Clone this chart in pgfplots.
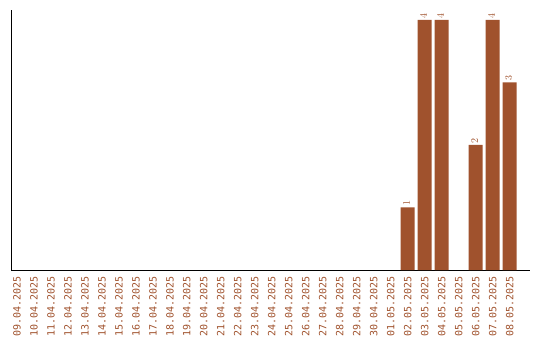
\documentclass[border=0pt]{standalone}
\usepackage{pgfplots}
\pgfplotsset{compat=1.18}
\usepackage{fontspec}
\setmonofont{DejaVu Sans Mono}
\definecolor{barc}{HTML}{A0522D}
\begin{document}
\begin{tikzpicture}
\useasboundingbox (0,0) rectangle (540pt,340pt);
\begin{axis}[
  at={(11pt,70pt)}, anchor=south west,
  scale only axis, width=519pt, height=260pt,
  axis lines=left, axis line style={-, thick},
  xmin=-0.35, xmax=30.2, ymin=0, ymax=4.16,
  ytick=\empty,
  xtick={0,...,29},
  xticklabels={09.04.2025,10.04.2025,11.04.2025,12.04.2025,13.04.2025,14.04.2025,15.04.2025,16.04.2025,17.04.2025,18.04.2025,19.04.2025,20.04.2025,21.04.2025,22.04.2025,23.04.2025,24.04.2025,25.04.2025,26.04.2025,27.04.2025,28.04.2025,29.04.2025,30.04.2025,01.05.2025,02.05.2025,03.05.2025,04.05.2025,05.05.2025,06.05.2025,07.05.2025,08.05.2025},
  major tick length=0pt,
  xticklabel shift=6pt,
  xticklabel style={font=\ttfamily\fontsize{10}{10}\selectfont, xshift=4pt, rotate=90, anchor=south east, text=barc, inner sep=0pt},
  xtick style={draw=none},
  ybar, bar width=14pt,
  nodes near coords,
  every node near coord/.append style={font=\ttfamily\fontsize{10}{10}\selectfont, xshift=4pt, rotate=90, anchor=south west, text=barc, inner sep=1.5pt},
]
\addplot[fill=barc, draw=none] coordinates {(23,1) (24,4) (25,4) (27,2) (28,4) (29,3)};
\end{axis}
\end{tikzpicture}
\end{document}
